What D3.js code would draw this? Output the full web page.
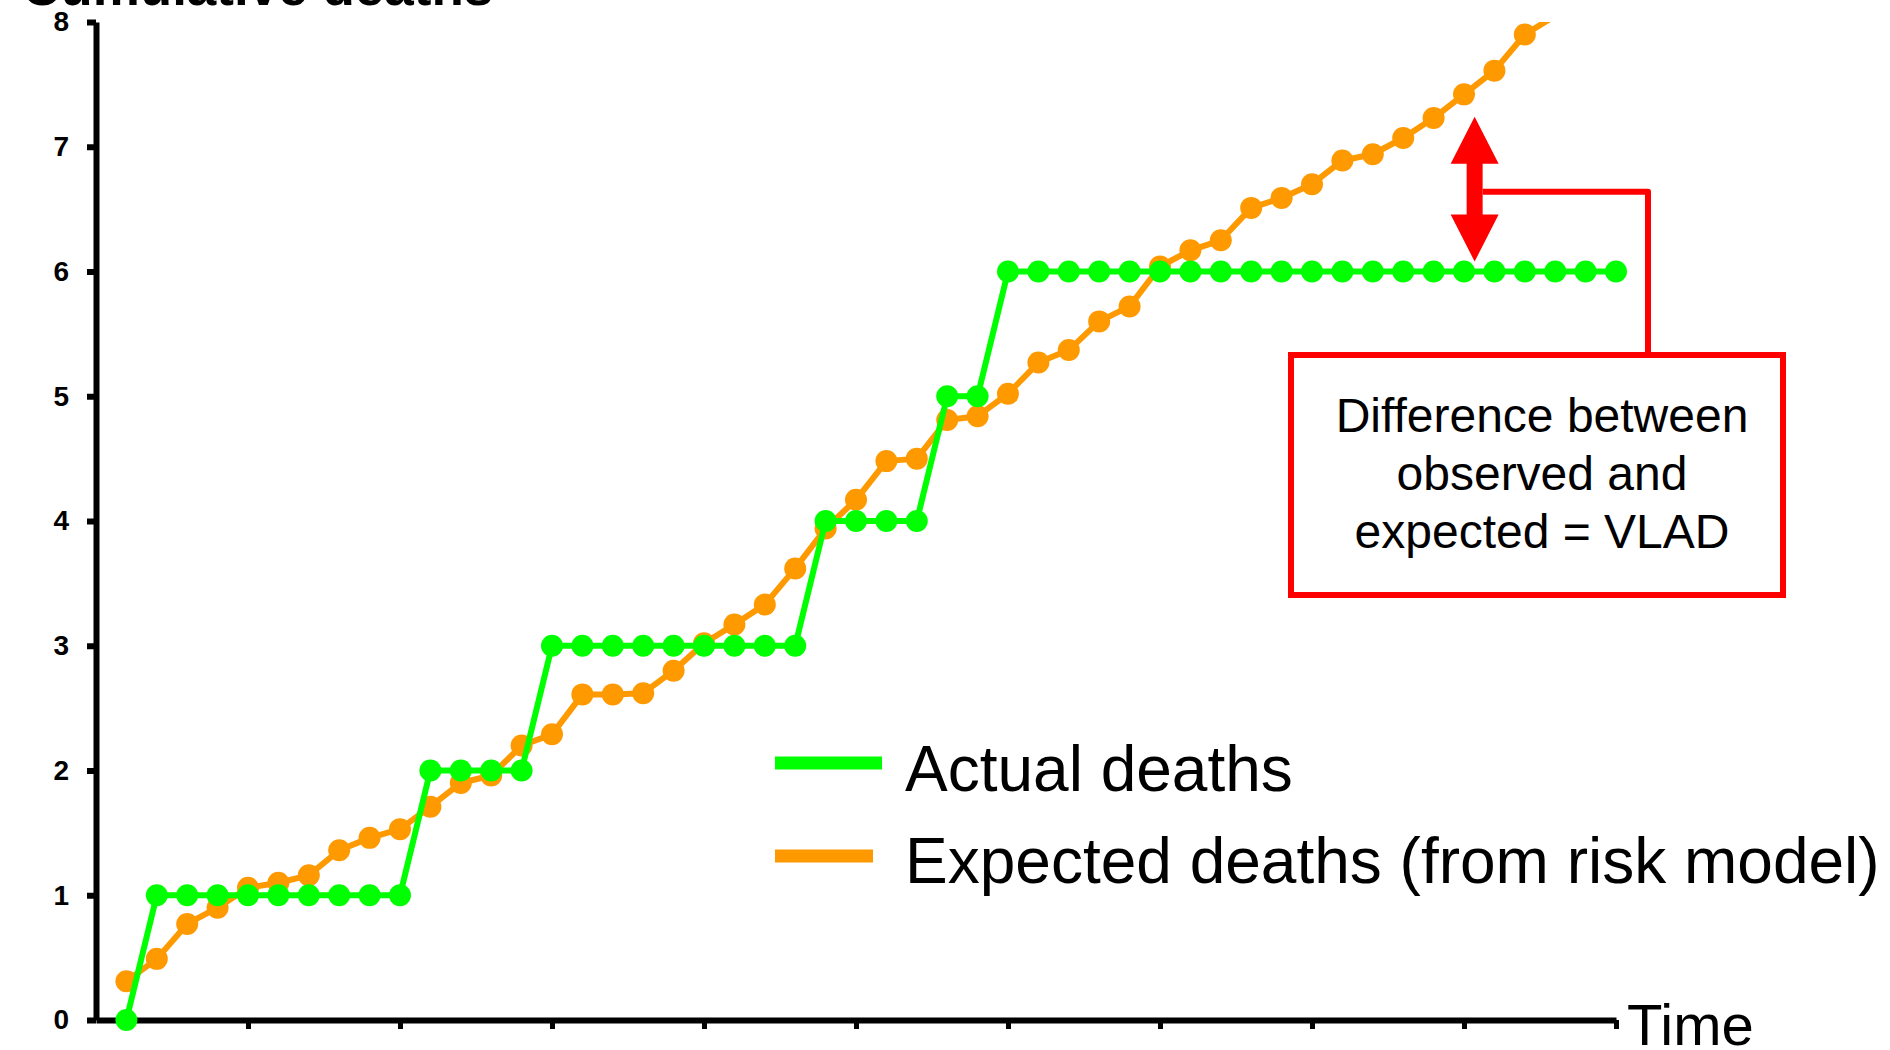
<!DOCTYPE html>
<html>
<head>
<meta charset="utf-8">
<script src="https://cdn.jsdelivr.net/npm/d3@7"></script>
<style>
  html, body { margin: 0; padding: 0; background: #ffffff; }
  svg { display: block; font-family: "Liberation Sans", Arial, sans-serif; }
</style>
</head>
<body>
<svg id="chart" width="1890" height="1050"></svg>
<script>
// Cumulative deaths per case, in time order
const actualDeaths = [0, 1, 1, 1, 1, 1, 1, 1, 1, 1, 2, 2, 2, 2, 3, 3, 3, 3, 3, 3, 3, 3, 3,
  4, 4, 4, 4, 5, 5, 6, 6, 6, 6, 6, 6, 6, 6, 6, 6, 6, 6, 6, 6, 6, 6, 6, 6, 6, 6, 6, 6];
actualDeaths.length = 50;

const expectedDeaths = [0.31, 0.49, 0.77, 0.90, 1.06, 1.10, 1.16, 1.36, 1.46, 1.53,
  1.71, 1.90, 1.96, 2.20, 2.29, 2.61, 2.61, 2.62, 2.80, 3.02,
  3.17, 3.33, 3.62, 3.94, 4.17, 4.48, 4.50, 4.81, 4.84, 5.02,
  5.27, 5.37, 5.60, 5.72, 6.04, 6.17, 6.25, 6.51, 6.59, 6.70,
  6.89, 6.94, 7.07, 7.23, 7.42, 7.61, 7.90, 8.05];

const yTicks = [0, 1, 2, 3, 4, 5, 6, 7, 8];
const xTicks = [5, 10, 15, 20, 25, 30, 35, 40, 45, 50];

const legendLabels = ["Actual deaths", "Expected deaths (from risk model)"];
const calloutLines = ["Difference between", "observed and", "expected = VLAD"];

const GREEN = "#00ff00", ORANGE = "#ff9900", RED = "#ff0000";

const svg = d3.select("#chart");

const x = d3.scaleLinear().domain([0, 50]).range([96, 1616]);
const y = d3.scaleLinear().domain([0, 8]).range([1020, 22]);
const [yMin, yMax] = y.domain();

// clip so the expected line stops at the top of the plot
svg.append("defs").append("clipPath").attr("id", "plotClip")
  .append("rect").attr("x", 0).attr("y", y(yMax)).attr("width", 1890).attr("height", 1050);

// y axis
const yAxis = svg.append("g")
  .attr("transform", `translate(${x(0)},0)`)
  .call(d3.axisLeft(y).tickValues(yTicks).tickSize(9).tickSizeOuter(0).tickPadding(18));
yAxis.select(".domain").attr("stroke", "#000").attr("stroke-width", 6);
yAxis.selectAll(".tick line").attr("stroke", "#000").attr("stroke-width", 6);
yAxis.selectAll(".tick text")
  .attr("font-family", "'Liberation Sans', Arial, sans-serif")
  .attr("font-size", 28).attr("font-weight", "bold").attr("fill", "#000");

// x axis
const xAxis = svg.append("g")
  .attr("transform", `translate(0,${y(0)})`)
  .call(d3.axisBottom(x).tickValues(xTicks).tickSize(9).tickSizeOuter(0).tickFormat(""));
xAxis.select(".domain").attr("stroke", "#000").attr("stroke-width", 6);
xAxis.selectAll(".tick line").attr("stroke", "#000").attr("stroke-width", 5);

// axis titles
svg.append("text").attr("x", 22).attr("y", 5)
  .attr("font-size", 53).attr("font-weight", "bold").attr("fill", "#000")
  .text("Cumulative deaths");
svg.append("text").attr("x", 1627).attr("y", 1045)
  .attr("font-size", 58).attr("fill", "#000")
  .text("Time");

// series: lines are clipped at the plot top, markers outside the y range are omitted
const plot = svg.append("g").attr("clip-path", "url(#plotClip)");
const line = d3.line().x((d, i) => x(i + 1)).y(d => y(d));

function drawSeries(values, color) {
  const g = plot.append("g");
  g.append("path").datum(values)
    .attr("d", line)
    .attr("fill", "none").attr("stroke", color)
    .attr("stroke-width", 6).attr("stroke-linejoin", "round");
  const pts = values.map((v, i) => ({ i, v })).filter(d => d.v >= yMin && d.v <= yMax);
  g.selectAll("circle").data(pts).join("circle")
    .attr("cx", d => x(d.i + 1)).attr("cy", d => y(d.v))
    .attr("r", 11).attr("fill", color);
}
drawSeries(expectedDeaths, ORANGE);
drawSeries(actualDeaths, GREEN);

// legend
const legend = svg.append("g");
const legendRows = [
  { label: legendLabels[0], color: GREEN, x0: 775, x1: 882, ly: 763, ty: 791 },
  { label: legendLabels[1], color: ORANGE, x0: 775, x1: 873, ly: 856, ty: 883 }
];
legendRows.forEach(r => {
  legend.append("line").attr("x1", r.x0).attr("x2", r.x1).attr("y1", r.ly).attr("y2", r.ly)
    .attr("stroke", r.color).attr("stroke-width", 13);
  legend.append("text").attr("x", 905).attr("y", r.ty)
    .attr("font-size", 64).attr("fill", "#000").text(r.label);
});

// double-headed arrow marking the gap between the two curves
const ax = x(45.35);
const yTop = y(7.24), yBot = y(6.08);
const headH = 47, headW = 24, shaftW = 8;
const arrowPts = [
  [ax, yTop], [ax + headW, yTop + headH], [ax + shaftW, yTop + headH],
  [ax + shaftW, yBot - headH], [ax + headW, yBot - headH], [ax, yBot],
  [ax - headW, yBot - headH], [ax - shaftW, yBot - headH],
  [ax - shaftW, yTop + headH], [ax - headW, yTop + headH]
];
svg.append("polygon").attr("points", arrowPts.map(p => p.join(",")).join(" "))
  .attr("fill", RED);

// callout box and connector
const box = { x0: 1291, y0: 355, x1: 1783, y1: 595 };
const connY = y(6.64), connX = 1648;
svg.append("path")
  .attr("d", `M${ax + shaftW},${connY} H${connX} V${box.y0}`)
  .attr("fill", "none").attr("stroke", RED).attr("stroke-width", 6)
  .attr("stroke-linejoin", "round");
svg.append("rect")
  .attr("x", box.x0).attr("y", box.y0)
  .attr("width", box.x1 - box.x0).attr("height", box.y1 - box.y0)
  .attr("fill", "#fff").attr("stroke", RED).attr("stroke-width", 6);
svg.append("text").attr("text-anchor", "middle")
  .attr("font-size", 48).attr("fill", "#000")
  .selectAll("tspan").data(calloutLines).join("tspan")
  .attr("x", (box.x0 + box.x1) / 2 + 5)
  .attr("y", (d, i) => 432 + i * 58)
  .text(d => d);
</script>
</body>
</html>
